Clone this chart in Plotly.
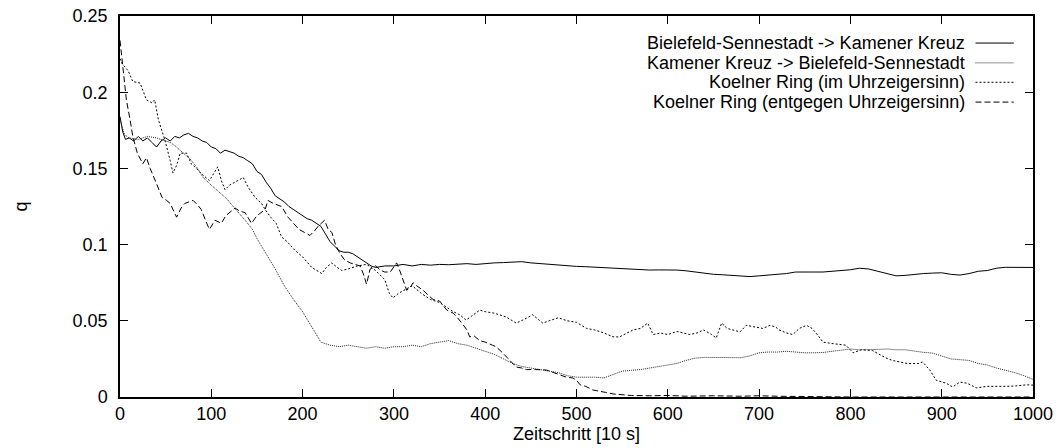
import plotly.graph_objects as go

# ---------------- data ----------------
names = [
    "Bielefeld-Sennestadt -> Kamener Kreuz",
    "Kamener Kreuz -> Bielefeld-Sennestadt",
    "Koelner Ring (im Uhrzeigersinn)",
    "Koelner Ring (entgegen Uhrzeigersinn)",
]

a_x = [0, 3, 6, 10, 15, 20, 25, 30, 35, 40, 45, 50, 55, 60, 65, 70, 75, 80, 85, 90, 95, 100,
       105, 110, 115, 120, 125, 130, 135, 140, 145, 150, 155, 160, 165, 170, 175, 180, 185, 190,
       195, 200, 205, 210, 215, 220, 225, 230, 235, 240, 245, 250, 255, 260, 265, 270, 275, 280,
       290, 300, 310, 320, 330, 340, 350, 360, 370, 380, 390, 400, 410, 420, 430, 440, 450, 460,
       470, 480, 490, 500, 510, 520, 530, 540, 550, 560, 570, 580, 590, 600, 610, 620, 630, 640,
       650, 660, 670, 680, 690, 700, 710, 720, 730, 740, 750, 760, 770, 780, 790, 800, 810, 820,
       830, 840, 850, 860, 870, 880, 890, 900, 910, 920, 930, 940, 950, 960, 970, 980, 990, 1000]
a_y = [0.184, 0.174, 0.169, 0.170, 0.168, 0.171, 0.168, 0.170, 0.167, 0.164, 0.168, 0.170, 0.168,
       0.171, 0.170, 0.172, 0.173, 0.171, 0.170, 0.168, 0.167, 0.164, 0.163, 0.160, 0.162, 0.161,
       0.160, 0.158, 0.157, 0.155, 0.153, 0.148, 0.146, 0.141, 0.137, 0.132, 0.130, 0.128, 0.125,
       0.123, 0.121, 0.119, 0.117, 0.116, 0.114, 0.112, 0.107, 0.102, 0.099, 0.096, 0.095, 0.095,
       0.094, 0.092, 0.090, 0.088, 0.086, 0.085, 0.086, 0.086, 0.087, 0.086, 0.087, 0.0865, 0.087,
       0.0868, 0.087, 0.0875, 0.087, 0.0877, 0.088, 0.0882, 0.0885, 0.0888, 0.088, 0.0875, 0.087,
       0.0866, 0.086, 0.0857, 0.0855, 0.0852, 0.085, 0.0845, 0.0842, 0.0838, 0.0835, 0.0833,
       0.0834, 0.0835, 0.0833, 0.0828, 0.082, 0.081, 0.0805, 0.0802, 0.0798, 0.0795, 0.079,
       0.0795, 0.080, 0.0805, 0.081, 0.082, 0.0822, 0.082, 0.082, 0.0825, 0.083, 0.0835, 0.0845,
       0.084, 0.0825, 0.0812, 0.0795, 0.0798, 0.0805, 0.081, 0.0813, 0.0815, 0.0805, 0.080, 0.081,
       0.0825, 0.083, 0.0845, 0.0851, 0.085, 0.0852, 0.085]

b_x = [0, 5, 10, 20, 30, 40, 50, 55, 60, 70, 77, 85, 91, 100, 109, 117, 124, 130, 137, 145, 150,
       160, 170, 180, 190, 200, 210, 220, 230, 240, 250, 260, 270, 280, 290, 300, 310, 320, 330,
       340, 350, 360, 370, 380, 390, 400, 410, 420, 430, 440, 450, 460, 470, 480, 490, 500, 510,
       520, 530, 540, 550, 560, 570, 580, 590, 600, 610, 620, 630, 640, 650, 660, 670, 680, 690,
       700, 710, 720, 730, 740, 750, 760, 770, 780, 790, 800, 810, 820, 830, 840, 850, 860, 870,
       880, 890, 900, 910, 920, 930, 940, 950, 960, 970, 980, 990, 1000]
b_y = [0.182, 0.172, 0.170, 0.169, 0.171, 0.170, 0.168, 0.167, 0.165, 0.160, 0.156, 0.150, 0.144,
       0.139, 0.134, 0.130, 0.125, 0.121, 0.116, 0.110, 0.104, 0.094, 0.084, 0.073, 0.064, 0.056,
       0.046, 0.036, 0.034, 0.033, 0.034, 0.033, 0.032, 0.033, 0.032, 0.033, 0.033, 0.034, 0.033,
       0.035, 0.036, 0.037, 0.035, 0.034, 0.032, 0.030, 0.028, 0.025, 0.022, 0.020, 0.019, 0.018,
       0.017, 0.016, 0.014, 0.013, 0.013, 0.013, 0.0125, 0.015, 0.017, 0.0175, 0.018, 0.019, 0.020,
       0.021, 0.022, 0.024, 0.0255, 0.026, 0.026, 0.026, 0.026, 0.0258, 0.027, 0.029, 0.0295,
       0.0295, 0.030, 0.0295, 0.029, 0.029, 0.0292, 0.030, 0.031, 0.0315, 0.031, 0.031, 0.0312,
       0.0315, 0.031, 0.031, 0.030, 0.0293, 0.0288, 0.027, 0.025, 0.0245, 0.024, 0.022, 0.021,
       0.019, 0.0177, 0.016, 0.014, 0.0116]

c_x = [0, 2, 9, 14, 22, 29, 35, 38, 42, 49, 55, 58, 62, 66, 73, 78, 82, 90, 98, 103, 107, 111,
       115, 120, 126, 135, 140, 148, 155, 159, 165, 171, 177, 183, 192, 200, 210, 215, 221, 226,
       232, 238, 243, 250, 260, 270, 280, 290, 295, 299, 305, 314, 320, 330, 340, 350, 357, 365,
       372, 379, 385, 394, 400, 410, 423, 434, 443, 452, 458, 463, 470, 480, 490, 500, 511, 520,
       530, 540, 547, 555, 562, 570, 578, 584, 592, 600, 610, 624, 632, 639, 648, 653, 659, 665,
       672, 679, 686, 695, 704, 712, 718, 722, 730, 737, 744, 752, 758, 765, 770, 781, 795, 803,
       812, 824, 832, 839, 846, 854, 862, 868, 875, 879, 884, 887, 894, 905, 912, 920, 928, 938,
       950, 960, 970, 980, 993, 1000]
c_y = [0.222, 0.219, 0.214, 0.207, 0.206, 0.195, 0.193, 0.195, 0.182, 0.169, 0.155, 0.147, 0.152,
       0.160, 0.160, 0.153, 0.151, 0.146, 0.142, 0.147, 0.151, 0.142, 0.136, 0.139, 0.141, 0.144,
       0.138, 0.131, 0.127, 0.123, 0.118, 0.114, 0.105, 0.102, 0.096, 0.092, 0.085, 0.083, 0.081,
       0.085, 0.088, 0.085, 0.083, 0.084, 0.086, 0.087, 0.083, 0.077, 0.068, 0.065, 0.068, 0.071,
       0.073, 0.068, 0.064, 0.062, 0.059, 0.056, 0.054, 0.0505, 0.053, 0.057, 0.056, 0.055, 0.0525,
       0.0485, 0.051, 0.054, 0.051, 0.0485, 0.050, 0.052, 0.050, 0.049, 0.045, 0.044, 0.042,
       0.0395, 0.0394, 0.042, 0.044, 0.045, 0.0485, 0.041, 0.042, 0.041, 0.043, 0.041, 0.042,
       0.044, 0.041, 0.0387, 0.0485, 0.045, 0.044, 0.0427, 0.047, 0.046, 0.045, 0.047, 0.046,
       0.044, 0.042, 0.041, 0.045, 0.047, 0.045, 0.040, 0.036, 0.035, 0.034, 0.029, 0.031, 0.0305,
       0.028, 0.0256, 0.024, 0.023, 0.022, 0.022, 0.022, 0.023, 0.020, 0.0177, 0.011, 0.009,
       0.0066, 0.0098, 0.009, 0.006, 0.007, 0.0068, 0.007, 0.0072, 0.008, 0.0078]

d_x = [0, 4, 7, 11, 14, 19, 25, 29, 33, 40, 46, 51, 55, 62, 67, 71, 80, 85, 89, 95, 98, 104, 111,
       116, 120, 126, 131, 137, 144, 150, 159, 162, 168, 177, 184, 190, 196, 202, 208, 213, 217,
       224, 228, 232, 236, 241, 246, 252, 258, 263, 267, 270, 274, 280, 286, 290, 296, 300, 303,
       307, 310, 314, 318, 321, 325, 332, 339, 343, 350, 358, 365, 369, 375, 380, 383, 388, 394,
       400, 408, 412, 419, 425, 430, 434, 440, 445, 455, 467, 475, 482, 489, 496, 500, 504, 510,
       518, 525, 532, 540, 550, 560, 580, 600, 620, 650, 680, 700, 720, 740, 760, 800, 900, 1000]
d_y = [0.234, 0.214, 0.195, 0.182, 0.171, 0.160, 0.153, 0.157, 0.150, 0.140, 0.131, 0.129, 0.127,
       0.118, 0.124, 0.127, 0.129, 0.126, 0.123, 0.114, 0.110, 0.116, 0.114, 0.119, 0.121, 0.124,
       0.122, 0.121, 0.114, 0.119, 0.123, 0.129, 0.127, 0.125, 0.118, 0.114, 0.110, 0.108, 0.106,
       0.109, 0.112, 0.116, 0.110, 0.108, 0.100, 0.094, 0.090, 0.088, 0.087, 0.086, 0.080, 0.074,
       0.084, 0.086, 0.083, 0.082, 0.082, 0.085, 0.088, 0.082, 0.077, 0.070, 0.072, 0.075, 0.073,
       0.070, 0.066, 0.064, 0.063, 0.057, 0.055, 0.0525, 0.048, 0.044, 0.0395, 0.040, 0.037, 0.036,
       0.034, 0.033, 0.029, 0.025, 0.022, 0.0197, 0.019, 0.018, 0.018, 0.0177, 0.016, 0.0144,
       0.013, 0.0125, 0.011, 0.008, 0.007, 0.0046, 0.004, 0.003, 0.002, 0.0015, 0.001, 0.0008,
       0.001, 0.0005, 0.0008, 0.0005, 0.0008, 0.0005, 0.0003, 0.0, 0.0, 0.0, 0.0]

x_ticks = [0, 100, 200, 300, 400, 500, 600, 700, 800, 900, 1000]
y_ticks = [0, 0.05, 0.1, 0.15, 0.2, 0.25]
y_tick_text = ["0", "0.05", "0.1", "0.15", "0.2", "0.25"]
x_title = "Zeitschritt [10 s]"
y_title = "q"

# ---------------- styling ----------------
FONT = "Liberation Sans, Arial, Helvetica, sans-serif"
styles = [
    dict(color="black", width=1, dash="solid"),
    dict(color="#222", width=1, dash="1px,1px"),
    dict(color="black", width=1, dash="2px,2px"),
    dict(color="black", width=1, dash="6px,3px"),
]
series = [(a_x, a_y), (b_x, b_y), (c_x, c_y), (d_x, d_y)]

fig = go.Figure()
for (xs, ys), nm, st in zip(series, names, styles):
    fig.add_trace(go.Scatter(x=xs, y=ys, mode="lines", name=nm, line=st, showlegend=False))

# manual gnuplot-style legend: right-aligned text, line sample on the right
leg_y = [0.929, 0.877, 0.826, 0.774]
for nm, st, yy in zip(names, styles, leg_y):
    fig.add_annotation(x=0.928, y=yy, xref="paper", yref="paper", text=nm, showarrow=False,
                       xanchor="right", yanchor="middle", font=dict(family=FONT, size=18, color="black"))
    fig.add_shape(type="line", xref="paper", yref="paper", x0=0.937, x1=0.979, y0=yy, y1=yy,
                  line=st)

axis_common = dict(showgrid=False, zeroline=False, showline=True, linecolor="black", linewidth=1.5,
                   mirror="ticks", ticks="inside", ticklen=8, tickwidth=1, tickcolor="black",
                   automargin=False,
                   tickfont=dict(family=FONT, size=18, color="black"))

fig.update_xaxes(range=[0, 1000], tickvals=x_ticks, ticklabelstandoff=0,
                 title=dict(text=x_title, font=dict(family=FONT, size=18, color="black"), standoff=4),
                 **axis_common)
fig.update_yaxes(range=[0, 0.25], tickvals=y_ticks, ticktext=y_tick_text, ticklabelstandoff=7,
                 title=dict(text=y_title, font=dict(family=FONT, size=18, color="black"), standoff=40),
                 **axis_common)

fig.update_layout(width=1063, height=448, margin=dict(l=120, r=30, t=16, b=51, pad=0),
                  paper_bgcolor="white", plot_bgcolor="white",
                  font=dict(family=FONT, size=18, color="black"))

fig.write_html("out.html")
